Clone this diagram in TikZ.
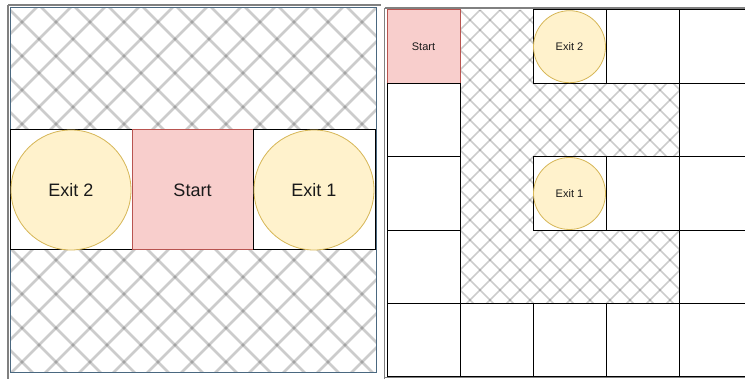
\documentclass[tikz,border=0pt]{standalone}
\usepackage{fontspec}
\setmainfont{Liberation Sans}
\definecolor{startfill}{HTML}{F8CECC}
\definecolor{startdraw}{HTML}{B85450}
\definecolor{exitfill}{HTML}{FFF2CC}
\definecolor{exitdraw}{HTML}{D6B656}
\definecolor{frameblue}{HTML}{4A6880}
\definecolor{framegray}{HTML}{808080}
\definecolor{txt}{HTML}{1A1A1A}
\begin{document}
\begin{tikzpicture}[x=1pt,y=-1pt,
  hatchline/.style={draw=black,draw opacity=0.2},
  bigbox/.style={draw=black,line width=1pt,fill=white,minimum width=121pt,minimum height=120pt,inner sep=0pt,outer sep=0pt},
  bigstart/.style={bigbox,draw=startdraw,fill=startfill,font=\fontsize{18}{20}\selectfont,text=txt},
  bigexit/.style={circle,draw=exitdraw,fill=exitfill,line width=0.8pt,minimum size=120pt,inner sep=0pt,font=\fontsize{18}{20}\selectfont,text=txt},
  cell/.style={draw=black,line width=1pt,fill=white,minimum width=73pt,minimum height=73.4pt,inner sep=0pt,outer sep=0pt},
  startcell/.style={cell,draw=startdraw,fill=startfill,font=\fontsize{11}{13}\selectfont,text=txt},
  exitcell/.style={circle,draw=exitdraw,fill=exitfill,line width=0.8pt,minimum size=72pt,inner sep=0pt,font=\fontsize{11}{13}\selectfont,text=txt}]
\useasboundingbox (0,0) rectangle (745,379);
% ---------- left panel ----------
\begin{scope}
\clip (10,8) rectangle (376,373);
\foreach \c in {-408,-374,...,400} \draw[hatchline,line width=2.6pt] (\c,0) -- ++(420,420);
\foreach \c in {-24,10,...,800} \draw[hatchline,line width=2.6pt] (\c,0) -- ++(-420,420);
\end{scope}
\draw[framegray,line width=1.5pt] (8,5) -- (381,5);
\draw[framegray,line width=1.5pt] (8,5) -- (8,379);
\draw[frameblue,line width=1pt] (10,8) rectangle (376,373);
\node[bigbox,minimum width=122pt] (lb2) at (71,190) {};
\node[bigstart] (lstart) at (192.5,190) {Start};
\node[bigbox,minimum width=122pt] (lb1) at (314,190) {};
\node[bigexit] (lexit2) at (lb2) {Exit 2};
\node[bigexit] (lexit1) at (lb1) {Exit 1};
% ---------- right panel ----------
\begin{scope}
\clip (460,10) -- (533,10) -- (533,83.4) -- (679,83.4) -- (679,156.8) -- (533,156.8) -- (533,230.2) -- (679,230.2) -- (679,303.6) -- (460,303.6) -- cycle;
\foreach \c in {30,50,...,700} \draw[hatchline,line width=1.6pt] (\c,0) -- ++(400,400);
\foreach \c in {450,470,...,1100} \draw[hatchline,line width=1.6pt] (\c,0) -- ++(-400,400);
\end{scope}
\draw[framegray,line width=1.5pt] (384.5,8) -- (750,8);
\draw[framegray,line width=1.5pt] (384.5,8) -- (384.5,379);
\draw[framegray,line width=1.5pt] (384.5,377.5) -- (750,377.5);
\node[startcell] (s11) at (423.5,46.7) {Start};
\node[cell] (c21) at (423.5,120.1) {};
\node[cell] (c31) at (423.5,193.5) {};
\node[cell] (c41) at (423.5,266.9) {};
\node[cell] (c51) at (423.5,340.3) {};
\node[cell] (c52) at (496.5,340.3) {};
\node[cell] (c53) at (569.5,340.3) {};
\node[cell] (c54) at (642.5,340.3) {};
\node[cell] (c55) at (715.5,340.3) {};
\node[cell] (c13) at (569.5,46.7) {};
\node[cell] (c14) at (642.5,46.7) {};
\node[cell] (c15) at (715.5,46.7) {};
\node[cell] (c33) at (569.5,193.5) {};
\node[cell] (c34) at (642.5,193.5) {};
\node[cell] (c25) at (715.5,120.1) {};
\node[cell] (c35) at (715.5,193.5) {};
\node[cell] (c45) at (715.5,266.9) {};
\node[exitcell] (rexit2) at (c13) {Exit 2};
\node[exitcell] (rexit1) at (c33) {Exit 1};
\end{tikzpicture}
\end{document}
